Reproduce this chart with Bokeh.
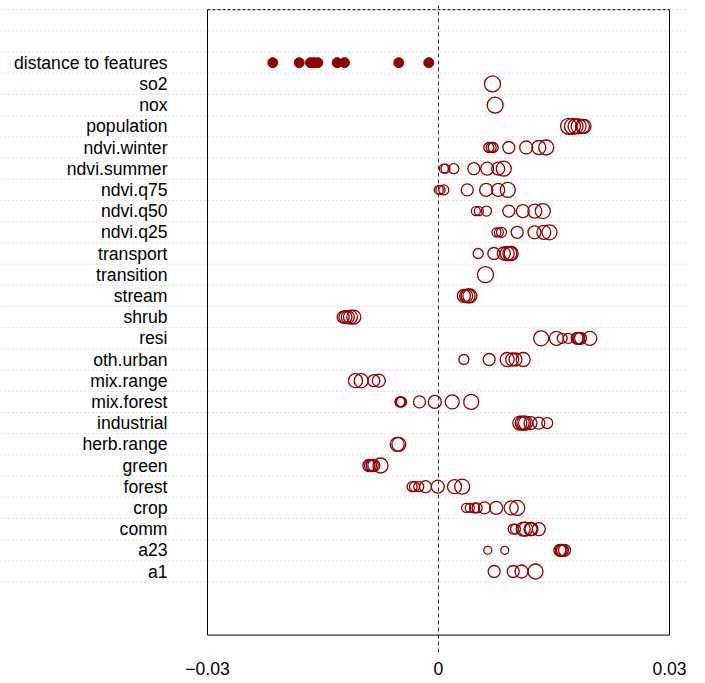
from bokeh.plotting import figure
from bokeh.models import Range1d, ColumnDataSource
from bokeh.core.properties import value
from bokeh.embed import file_html
from bokeh.resources import INLINE

# ---- data ----
categories = ["distance to features", "so2", "nox", "population", "ndvi.winter",
              "ndvi.summer", "ndvi.q75", "ndvi.q50", "ndvi.q25", "transport",
              "transition", "stream", "shrub", "resi", "oth.urban", "mix.range",
              "mix.forest", "industrial", "herb.range", "green", "forest", "crop",
              "comm", "a23", "a1"]

distance_vals = [-0.02152, -0.01809, -0.01662, -0.01619, -0.01567, -0.01316,
                 -0.01221, -0.00516, -0.00126]

so2 = [0.00701]
nox = [0.00736]
population = [0.0169, 0.0174, 0.0178, 0.0182, 0.0187, 0.0189]
ndvi_winter = [0.00653, 0.00684, 0.0071, 0.00913, 0.01139, 0.01303, 0.01399]
ndvi_summer = [0.00069, 0.00091, 0.00199, 0.00459, 0.00632, 0.00775, 0.00848]
ndvi_q75 = [0.00004, 0.00026, 0.00069, 0.00373, 0.00619, 0.00775, 0.009]
ndvi_q50 = [0.00485, 0.00524, 0.00623, 0.00913, 0.01095, 0.01251, 0.01355]
ndvi_q25 = [0.00753, 0.00784, 0.00818, 0.01022, 0.01247, 0.01368, 0.01442]
transport = [0.00515, 0.00719, 0.00848, 0.00892, 0.00926, 0.00944]
transition = [0.0061]
stream = [0.00329, 0.00359, 0.00385, 0.00407]
shrub = [-0.01238, -0.01208, -0.01178, -0.01143, -0.011]
resi = [0.01333, 0.01532, 0.01606, 0.01684, 0.01801, 0.01822, 0.01844, 0.01965]
oth_urban = [0.00329, 0.00658, 0.00892, 0.00957, 0.01, 0.011]
mix_range = [-0.01078, -0.01004, -0.0084, -0.00775]
mix_forest = [-0.00502, -0.00494, -0.0048, -0.00247, -0.00048, 0.00178, 0.00425]
industrial = [0.01056, 0.01087, 0.01108, 0.0113, 0.01195, 0.01303, 0.01412]
herb_range = [-0.00536, -0.00515]
green = [-0.00905, -0.00883, -0.00861, -0.0084, -0.00753]
forest = [-0.00342, -0.00312, -0.00256, -0.00169, -0.00009, 0.00208, 0.00308]
crop = [0.00359, 0.00407, 0.00468, 0.00502, 0.00597, 0.00749, 0.00944, 0.01022]
comm = [0.0097, 0.01, 0.011, 0.0113, 0.01195, 0.01208, 0.01303]
a23 = [0.0064, 0.00861, 0.01576, 0.01593, 0.0161, 0.01636]
a1 = [0.00723, 0.0097, 0.01078, 0.0126]

# relative circle magnitudes (per point)
mag = {
    "so2": [16], "nox": [16],
    "population": [16, 16, 15, 15, 14, 14],
    "ndvi.winter": [10, 10, 10, 12, 13, 14, 15],
    "ndvi.summer": [9, 9, 10, 12, 13, 13, 15],
    "ndvi.q75": [9, 9, 10, 12, 13, 13, 15],
    "ndvi.q50": [9, 9, 10, 12, 13, 14, 15],
    "ndvi.q25": [9, 9, 10, 12, 13, 14, 15],
    "transport": [10, 12, 13, 14, 14, 14],
    "transition": [16],
    "stream": [13, 13, 14, 14],
    "shrub": [12, 13, 13, 14, 14],
    "resi": [15, 14, 10, 10, 12, 12, 12, 14],
    "oth.urban": [10, 12, 14, 13, 13, 14],
    "mix.range": [14, 14, 12, 13],
    "mix.forest": [10, 10, 10, 12, 13, 14, 15],
    "industrial": [14, 14, 14, 14, 13, 12, 11],
    "herb.range": [14, 14],
    "green": [12, 12, 12, 12, 15],
    "forest": [10, 10, 10, 12, 13, 14, 15],
    "crop": [9, 9, 10, 10, 12, 13, 14, 15],
    "comm": [10, 10, 14, 14, 13, 13, 13],
    "a23": [8, 8, 12, 12, 12, 12],
    "a1": [12, 12, 13, 15],
}

series = {
    "so2": so2, "nox": nox, "population": population, "ndvi.winter": ndvi_winter,
    "ndvi.summer": ndvi_summer, "ndvi.q75": ndvi_q75, "ndvi.q50": ndvi_q50,
    "ndvi.q25": ndvi_q25, "transport": transport, "transition": transition,
    "stream": stream, "shrub": shrub, "resi": resi, "oth.urban": oth_urban,
    "mix.range": mix_range, "mix.forest": mix_forest, "industrial": industrial,
    "herb.range": herb_range, "green": green, "forest": forest, "crop": crop,
    "comm": comm, "a23": a23, "a1": a1,
}

x_ticks = [-0.03, 0, 0.03]
x_tick_labels = ["\u22120.03", "0", "0.03"]

# ---- layout ----
n = len(categories)
row_of = {c: n - i for i, c in enumerate(categories)}  # top row = n

W, H = 705, 683
px_per_unit = 7700.0
x0 = -0.03 - 207 / px_per_unit
x1 = x0 + W / px_per_unit
row_px = 21.2
y_top = 1 + 571 / row_px
y_bot = y_top - H / row_px

p = figure(width=W, height=H, output_backend="svg", toolbar_location=None,
           x_range=Range1d(x0, x1), y_range=Range1d(y_bot, y_top),
           min_border=0, x_axis_type=None, y_axis_type=None)
p.grid.visible = False
p.outline_line_color = None
p.background_fill_color = "white"
p.border_fill_color = "white"

DARKRED = "#8B0000"
FONT = "Liberation Sans"

# dotted row separators
grid_ys = [k + 0.5 for k in range(0, n + 3)]
grid_right = (688 - 438) / px_per_unit
p.segment(x0=[x0] * len(grid_ys), x1=[grid_right] * len(grid_ys), y0=grid_ys, y1=grid_ys,
          line_color="#c8c8c8", line_width=1, line_dash="1 3")

# box
box_top = n + 2.5
box_bot = -2.0
p.segment(x0=[-0.03, 0.03, -0.03], x1=[-0.03, 0.03, 0.03],
          y0=[box_bot, box_bot, box_bot], y1=[box_top, box_top, box_bot],
          line_color="black", line_width=1)
p.segment(x0=[-0.03], x1=[0.03], y0=[box_top], y1=[box_top],
          line_color="black", line_width=1, line_dash="3 2")

# zero line
p.segment(x0=[0], x1=[0], y0=[-2.82], y1=[1 + (571 - 5) / row_px], line_color="#333333",
          line_width=1, line_dash="4 3")

# open circles
xs, ys, ss = [], [], []
for c in categories[1:]:
    for v, m in zip(series[c], mag[c]):
        xs.append(v)
        ys.append(row_of[c])
        ss.append(m)
p.scatter(x="x", y="y", size="s", source=ColumnDataSource(dict(x=xs, y=ys, s=ss)),
          marker="circle", fill_color=None, line_color=DARKRED, line_width=1.3)

# filled distance points
p.scatter(x=distance_vals, y=[row_of["distance to features"]] * len(distance_vals),
          size=10, marker="circle", fill_color=DARKRED, line_color=DARKRED)

# category labels
lab_x = (167 - 438) / px_per_unit
p.text(x=[lab_x] * n, y=[row_of[c] for c in categories], text=categories,
       text_align="right", text_baseline="middle", text_font=value(FONT),
       text_font_size="17.6px", text_color="black")

# x tick labels
tick_y = 1 - (668 - 571) / row_px
p.text(x=x_ticks, y=[tick_y] * len(x_ticks), text=x_tick_labels,
       text_align="center", text_baseline="middle", text_font=value(FONT),
       text_font_size="17.6px", text_color="black")

open("out.html", "w").write(file_html(p, INLINE))
